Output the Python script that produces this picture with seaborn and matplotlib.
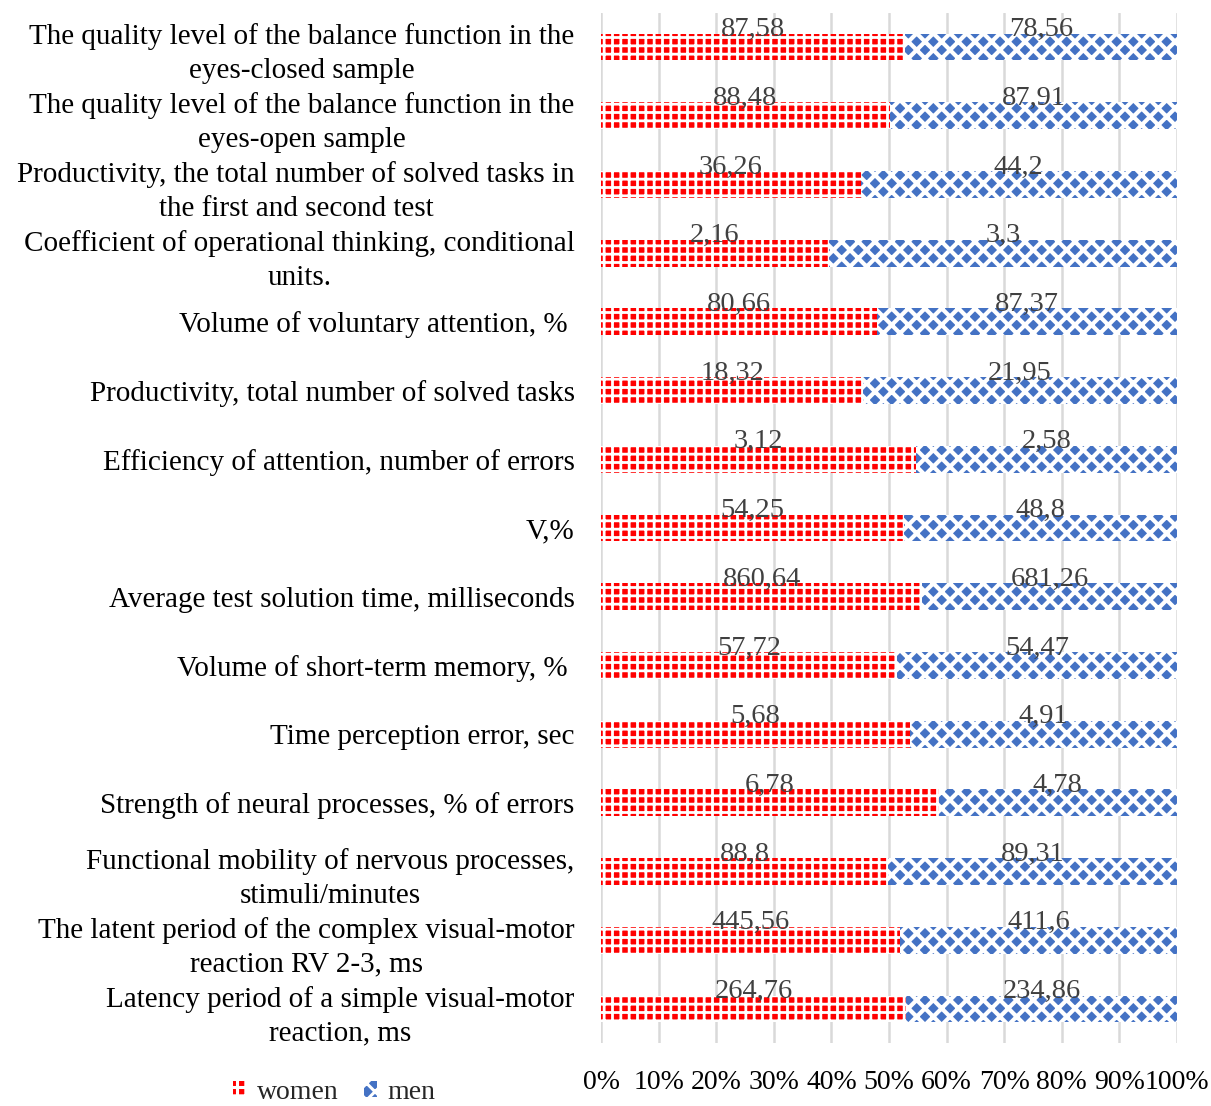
import matplotlib
matplotlib.use("Agg")
import matplotlib.pyplot as plt
import matplotlib.patches as mpatches
from matplotlib.ticker import PercentFormatter
import seaborn as sns
import pandas as pd

# indicators, top to bottom as in the chart
categories = [
    "The quality level of the balance function in the\neyes-closed sample",
    "The quality level of the balance function in the\neyes-open sample",
    "Productivity, the total number of solved tasks in\nthe first and second test",
    "Coefficient of operational thinking, conditional\nunits.",
    "Volume of voluntary attention, % ",
    "Productivity, total number of solved tasks",
    "Efficiency of attention, number of errors",
    "V,%",
    "Average test solution time, milliseconds",
    "Volume of short-term memory, % ",
    "Time perception error, sec",
    "Strength of neural processes, % of errors",
    "Functional mobility of nervous processes,\nstimuli/minutes",
    "The latent period of the complex visual-motor\nreaction RV 2-3, ms",
    "Latency period of a simple visual-motor\nreaction, ms",
]
women = [87.58, 88.48, 36.26, 2.16, 80.66, 18.32, 3.12, 54.25, 860.64,
         57.72, 5.68, 6.78, 88.8, 445.56, 264.76]
men = [78.56, 87.91, 44.2, 3.3, 87.37, 21.95, 2.58, 48.8, 681.26,
       54.47, 4.91, 4.78, 89.31, 411.6, 234.86]
series_names = ["women", "men"]

df = pd.DataFrame({"indicator": categories, "women": women, "men": men})
df["total"] = df["women"] + df["men"]
df["women_share"] = df["women"] / df["total"]
df["men_share"] = df["men"] / df["total"]
df["stack_end"] = df["women_share"] + df["men_share"]

RED = "#FF0000"
BLUE = "#4472C4"

sns.set_style("white")
plt.rcParams["font.family"] = ["Liberation Serif", "DejaVu Serif"]
plt.rcParams["hatch.linewidth"] = 2.2

fig = plt.figure(figsize=(12.11, 11.06), dpi=100)
ax = fig.add_axes([0.4963, 0.0566, 0.4756, 0.932])

bar_h = 0.39
# men segment drawn as the full stack, women laid over it
sns.barplot(data=df, x="stack_end", y="indicator", orient="h", color=BLUE,
            width=bar_h, ax=ax, zorder=2)
sns.barplot(data=df, x="women_share", y="indicator", orient="h", color=RED,
            width=bar_h, ax=ax, zorder=3)


def style_bar(p, face, hatch, hlw):
    p.set_facecolor(face)
    p.set_edgecolor("white")
    p.set_hatch(hatch)
    p.set_linewidth(0)
    if hasattr(p, "set_hatch_linewidth"):
        p.set_hatch_linewidth(hlw)


men_bars, women_bars = ax.containers[0], ax.containers[1]
for p in men_bars:
    style_bar(p, BLUE, "xx", 3.0)
for p in women_bars:
    style_bar(p, RED, "++", 2.0)

# value labels above each segment
for i, row in df.iterrows():
    ax.text(row["women_share"] / 2, i - 0.16,
            f"{row['women']:g}".replace(".", ","), ha="center", va="baseline",
            fontsize=20.5, color="#404040", zorder=5)
    ax.text(row["women_share"] + row["men_share"] / 2, i - 0.16,
            f"{row['men']:g}".replace(".", ","), ha="center", va="baseline",
            fontsize=20.5, color="#404040", zorder=5)

ax.set_xlim(0, 1)
ax.set_xticks([k / 10 for k in range(11)])
ax.xaxis.set_major_formatter(PercentFormatter(1.0, decimals=0))
ax.grid(axis="x", color="#D9D9D9", linewidth=1.8, zorder=0)
ax.set_axisbelow(True)
ax.set_xlabel("")
ax.set_ylabel("")
sns.despine(ax=ax, left=True, bottom=True)
ax.tick_params(axis="x", length=0, pad=19, labelsize=20, colors="black")
ax.tick_params(axis="y", length=0, pad=19, labelsize=21, colors="black")
for lbl in ax.get_yticklabels():
    lbl.set_multialignment("center")
    lbl.set_linespacing(1.4)

handles = []
for name, face, hatch, hlw in [(series_names[0], RED, "++", 2.0),
                               (series_names[1], BLUE, "xx", 3.0)]:
    h = mpatches.Patch(facecolor=face, edgecolor="white", hatch=hatch,
                       linewidth=0, label=name)
    if hasattr(h, "set_hatch_linewidth"):
        h.set_hatch_linewidth(hlw)
    handles.append(h)
fig.legend(handles=handles, loc="center", bbox_to_anchor=(0.276, 0.012),
           ncol=2, frameon=False, fontsize=20, handlelength=0.5,
           handleheight=0.5, handletextpad=0.35, columnspacing=0.9)

fig.savefig("out.png", dpi=100)
